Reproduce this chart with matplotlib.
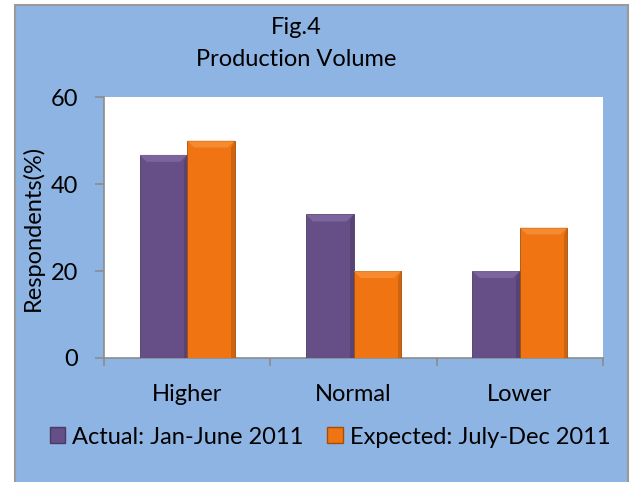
import matplotlib
matplotlib.use("Agg")
import matplotlib.pyplot as plt
from matplotlib.patches import Rectangle, Polygon
import numpy as np

categories = ["Higher", "Normal", "Lower"]
actual = [46.7, 33.0, 20.0]
expected = [50.0, 20.0, 30.0]
series_names = ["Actual: Jan-June 2011", "Expected: July-Dec 2011"]
title_lines = ["Fig.4", "Production Volume"]
ylabel = "Respondents(%)"
yticks = [0, 20, 40, 60]

plt.rcParams['font.family'] = ['Lato', 'DejaVu Sans']

W, H = 631, 482
fig = plt.figure(figsize=(W / 100, H / 100), dpi=100)
fig.patch.set_facecolor("white")

BLUE = "#8EB4E3"
PURPLE = "#654F86"
ORANGE = "#F07412"
FS = 17

# chart area
fig.patches.append(Rectangle((15 / W, -0.05), (628 - 15) / W, 1.05 - 5 / H,
                             transform=fig.transFigure, facecolor=BLUE,
                             edgecolor="#9A9A9A", linewidth=1.5, zorder=-1))

ax = fig.add_axes([104 / W, 1 - 358 / H, (603 - 104) / W, (358 - 97) / H])
ax.set_zorder(1)
ax.set_facecolor("white")

x = np.arange(len(categories))
bw = 1 / 3.5
b1 = ax.bar(x - bw / 2, actual, bw, color=PURPLE, edgecolor="#4A3A63", linewidth=0.6, zorder=3)
b2 = ax.bar(x + bw / 2, expected, bw, color=ORANGE, edgecolor="#A34E08", linewidth=0.6, zorder=3)

ax.set_xlim(-0.5, len(categories) - 0.5)
ax.set_ylim(0, 60)
ax.set_yticks(yticks)
ax.set_xticks(x)
ax.set_xticklabels(categories, fontsize=FS)
ax.set_xticks(np.arange(len(categories) + 1) - 0.5, minor=True)
ax.tick_params(axis='x', which='major', length=0, pad=19)
ax.tick_params(axis='x', which='minor', length=6, width=1.2, color="#8C8C8C", direction='out')
ax.tick_params(axis='y', length=6.5, width=1.2, color="#8C8C8C", labelsize=FS, pad=12)
for s in ["top", "right"]:
    ax.spines[s].set_visible(False)
for s in ["left", "bottom"]:
    ax.spines[s].set_color("#8C8C8C")
    ax.spines[s].set_linewidth(1.2)
ax.set_ylabel(ylabel, fontsize=FS)
ax.yaxis.set_label_coords(-0.12, 0.5)

# bevel highlights derived from bar geometry
fig.canvas.draw()
inv = fig.transFigure.inverted()
for bars, light, dark in [(b1, "#8C74AC", "#4E3D68"), (b2, "#FA9A45", "#B85A0A")]:
    for p in bars:
        bb = p.get_window_extent()
        d = 7
        x0, x1, y0, y1 = bb.x0, bb.x1, bb.y0, bb.y1
        top = [(x0, y1), (x1, y1), (x1 - d, y1 - d), (x0 + d, y1 - d)]
        right = [(x1, y1), (x1, y0), (x1 - d * 0.5, y0), (x1 - d * 0.5, y1 - d)]
        for pts, c in [(top, light), (right, dark)]:
            fp = inv.transform(pts)
            fig.patches.append(Polygon(fp, closed=True, transform=fig.transFigure,
                                       facecolor=c, edgecolor='none', alpha=0.6, zorder=5))

fig.text(296 / W, 1 - 27 / H, title_lines[0], ha='center', va='center', fontsize=FS)
fig.text(296 / W, 1 - 59 / H, title_lines[1], ha='center', va='center', fontsize=FS)

handles = [Rectangle((0, 0), 1, 1, facecolor=PURPLE, edgecolor="#4A3A63"),
           Rectangle((0, 0), 1, 1, facecolor=ORANGE, edgecolor="#A34E08")]
fig.legend(handles, series_names, loc='center', bbox_to_anchor=(330 / W, 1 - 437 / H),
           ncol=2, frameon=False, fontsize=FS, handlelength=0.65, handleheight=0.65,
           handletextpad=0.3, columnspacing=1.0, borderaxespad=0, borderpad=0)

fig.savefig("out.png", dpi=100, facecolor="white")
